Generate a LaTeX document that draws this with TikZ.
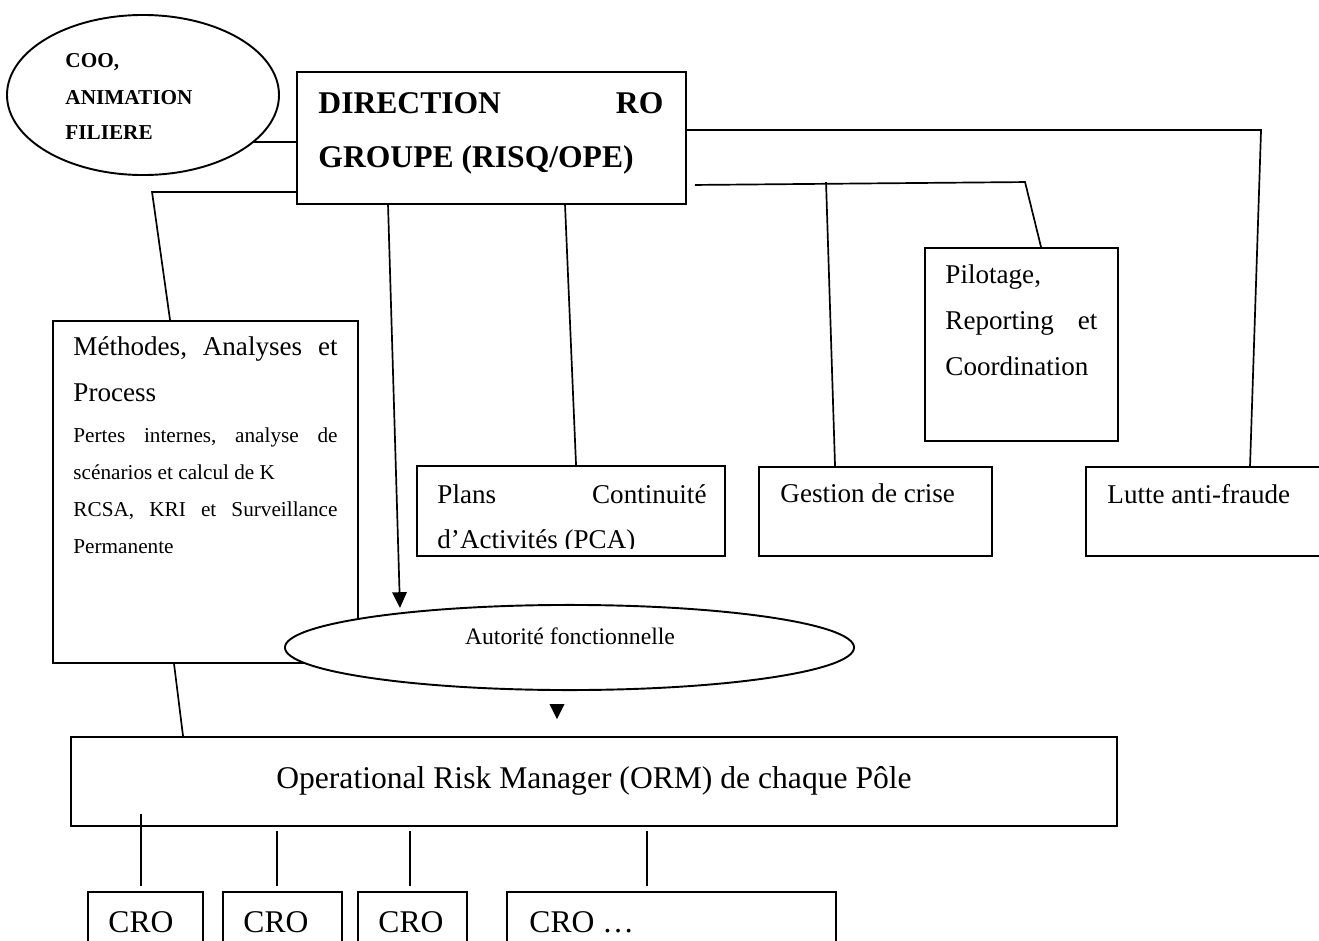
\documentclass[tikz,border=0pt]{standalone}
\usepackage{fontspec}
\setmainfont{Liberation Serif}
\usetikzlibrary{calc,fit,shapes.geometric,arrows.meta}

\begin{document}
\begin{tikzpicture}[x=0.443pt,y=-0.443pt,
  box/.style={draw,line width=.85pt,inner sep=0pt,rectangle},
  oval/.style={draw,fill=white,line width=.85pt,inner sep=0pt,ellipse},
  wire/.style={line width=.75pt},
  txt/.style={inner sep=0pt,anchor=base west,font=\fontsize{12}{14}\selectfont},
  bigtxt/.style={txt,font=\fontsize{14}{17}\selectfont},
  smalltxt/.style={txt,font=\fontsize{9.4}{11}\selectfont},
  captxt/.style={txt,font=\fontsize{9.4}{11}\selectfont\bfseries},
  dirtxt/.style={txt,font=\fontsize{14}{17}\selectfont\bfseries}]%Filiere RO groupe
\path[use as bounding box] (0,0) rectangle (1319,941);
\clip (0,0) rectangle (1319,941);
\node[oval,minimum width=120.5pt,minimum height=70.9pt] (coo) at (143,95) {};
\node[captxt] (coo1) at (65,67) {COO,};
\node[captxt] (coo2) at (65,104) {ANIMATION};
\node[captxt] (coo3) at (65,139) {FILIERE};
\node[box,fit={(297,72) (686,204)}] (dir) {};
\node[dirtxt,text width=152.8pt] (dir1) at (318,113) {DIRECTION\hfill RO};
\node[dirtxt] (dir2) at (318,167) {GROUPE (RISQ/OPE)};
\node[box,fit={(53,321) (358,663)}] (meth) {};
\node[txt,text width=117pt] (meth1) at (73,355) {Méthodes,\hfill Analyses\hfill et};
\node[txt] (meth2) at (73,401) {Process};
\node[smalltxt,text width=117pt] (meth3) at (73,442) {Pertes\hfill internes,\hfill analyse\hfill de};
\node[smalltxt] (meth4) at (73,479) {scénarios et calcul de K};
\node[smalltxt,text width=117pt] (meth5) at (73,516) {RCSA,\hfill KRI\hfill et\hfill Surveillance};
\node[smalltxt] (meth6) at (73,553) {Permanente};
\node[box,fit={(925,248) (1118,441)}] (pilot) {};
\node[txt] (pilot1) at (945,283) {Pilotage,};
\node[txt,text width=67.3pt] (pilot2) at (945,329) {Reporting\hfill et};
\node[txt] (pilot3) at (945,375) {Coordination};
\node[box,fit={(417,466) (725,556)}] (pca) {};
\node[txt,text width=119.2pt] (pca1) at (437,503) {Plans\hfill Continuité};
\begin{scope}
\clip (pca.north west) rectangle ($(pca.south east)+(0,-8)$);
\node[txt] (pca2) at (437,548) {d’Activités (PCA)};
\end{scope}
\node[box,fit={(759,467) (992,556)}] (crise) {};
\node[txt] (crise1) at (780,502) {Gestion de crise};
\node[box,fit={(1086,467) (1340,556)}] (fraude) {};
\node[txt] (fraude1) at (1107,503) {Lutte anti-fraude};
\node[oval,minimum width=252.1pt,minimum height=37.7pt] (aut) at (569.5,647.5) {};
\node[txt,anchor=base,font=\fontsize{10.5}{12}\selectfont] (aut1) at (570,644) {Autorité fonctionnelle};
\node[box,fit={(71,737) (1117,826)}] (orm) {};
\node[bigtxt,anchor=base] (orm1) at (594,788) {Operational Risk Manager (ORM) de chaque Pôle};
\node[box,fit={(88,892) (203,960)}] (cro1) {};
\node[bigtxt] (cro1t) at (108,932) {CRO};
\node[box,fit={(223,892) (342,960)}] (cro2) {};
\node[bigtxt] (cro2t) at (243,932) {CRO};
\node[box,fit={(358,892) (467,960)}] (cro3) {};
\node[bigtxt] (cro3t) at (378,932) {CRO};
\node[box,fit={(507,892) (836,960)}] (cro4) {};
\node[bigtxt] (cro4t) at (529,932) {CRO …};
\draw[wire] (coo.-23.6) -- (coo.-23.6 -| dir.west);
\draw[wire] ($(dir.south west)+(0,-13)$) -- ($(dir.south west)+(-144,-13)$) -- ($(meth.north west)+(118,0)$);
\draw[wire,-{Triangle[length=7pt,width=6.4pt]}] ($(dir.south west)+(92,0)$) -- ($(aut.center)+(-169.5,-39.5)$);
\draw[wire] ($(dir.south west)+(269,0)$) -- ($(pca.north west)+(160,0)$);
\draw[wire] ($(dir.north east)+(0,59)$) -- ($(fraude.north west)+(176,-336)$) -- ($(fraude.north west)+(165,0)$);
\draw[wire] ($(dir.south east)+(8,-20)$) -- ($(pilot.north west)+(101,-65)$) -- ($(pilot.north west)+(117,0)$);
\draw[wire] ($(crise.north west)+(68,-284)$) -- ($(crise.north west)+(77,0)$);
\fill ($(aut.south)+(-20,13)$) -- ($(aut.south)+(-5,13)$) -- ($(aut.south)+(-12.5,28)$) -- cycle;
\draw[wire] ($(meth.south west)+(122,0)$) -- ($(orm.north west)+(113,0)$);
\draw[wire] ($(orm.south west)+(71,-13)$) -- ($(cro1.north west)+(54,-5)$);
\draw[wire] ($(orm.south west)+(207,4)$) -- ($(cro2.north west)+(55,-5)$);
\draw[wire] ($(orm.south west)+(340,4)$) -- ($(cro3.north west)+(53,-5)$);
\draw[wire] ($(orm.south west)+(577,4)$) -- ($(cro4.north west)+(141,-5)$);
\end{tikzpicture}
\end{document}
